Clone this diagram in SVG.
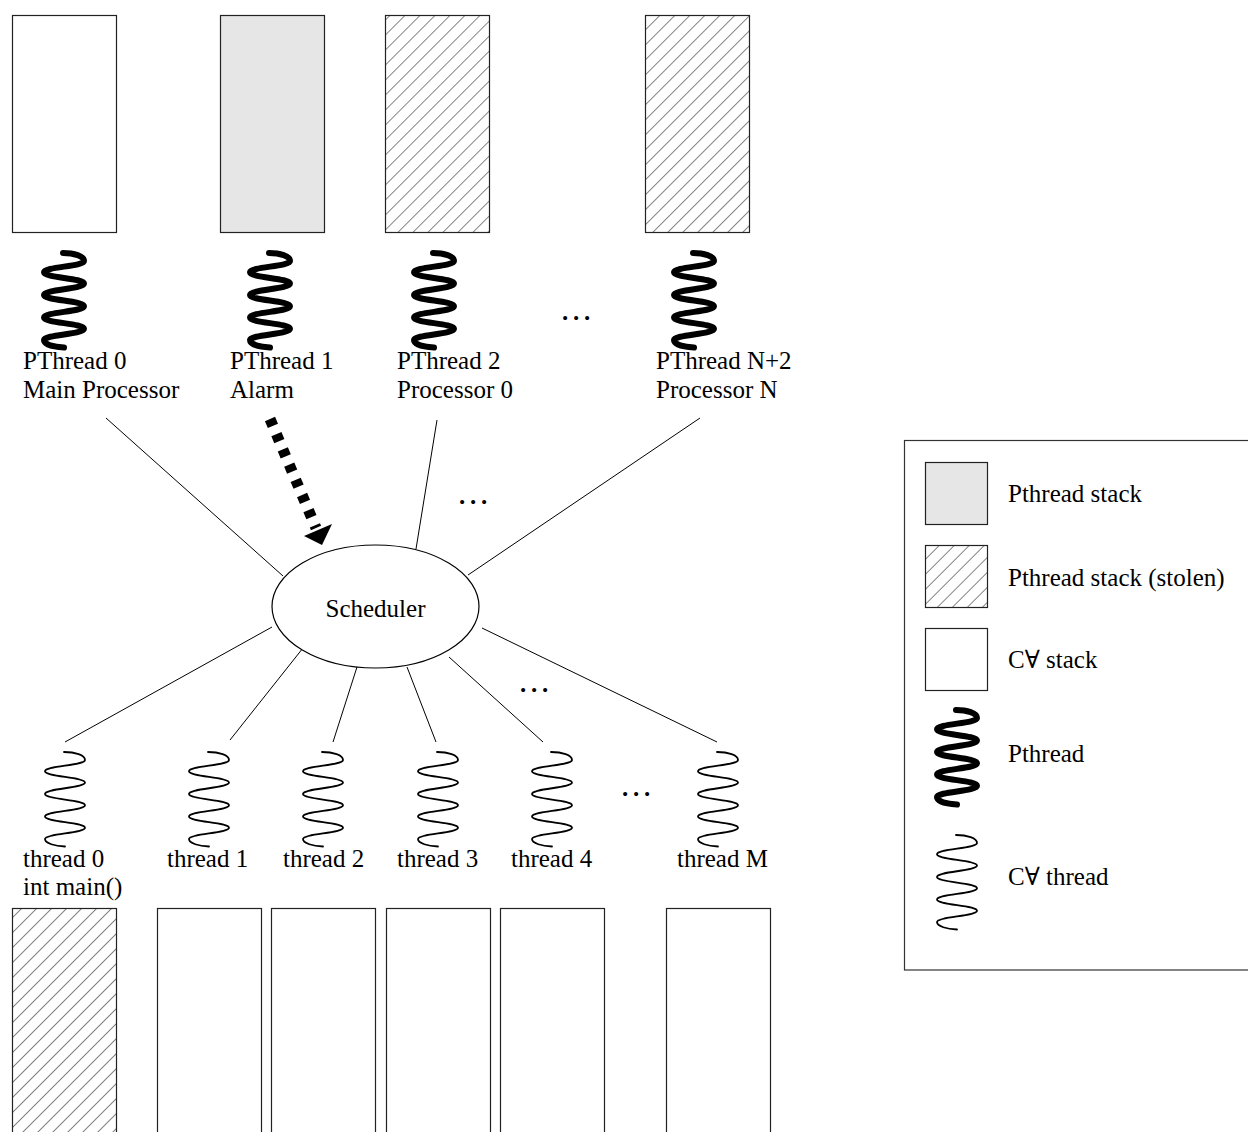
<svg xmlns="http://www.w3.org/2000/svg" xmlns:xlink="http://www.w3.org/1999/xlink" width="1248" height="1132" viewBox="0 0 1248 1132">
<style>
text{font-family:"Liberation Serif","DejaVu Serif",serif;font-size:25px;fill:#000}
.dots{font-weight:bold}
.box{stroke:#222;stroke-width:1.2}
.white{fill:#fff}
.gray{fill:#e6e6e6}
.hatch{fill:url(#hatch)}
.pth{fill:none;stroke:#000;stroke-width:6;stroke-linecap:round;stroke-linejoin:round}
.cth{fill:none;stroke:#000;stroke-width:1.8;stroke-linecap:round}
.conn{stroke:#000;stroke-width:1;fill:none}
.dash{stroke:#000;stroke-width:11;stroke-dasharray:7.5 9;fill:none}
</style>
<defs>
<pattern id="hatch" patternUnits="userSpaceOnUse" width="10.6" height="10.6" patternTransform="rotate(45)">
<rect width="10.6" height="10.6" fill="#fff"/>
<line x1="0" y1="-1" x2="0" y2="12" stroke="#333" stroke-width="1.2"/>
</pattern>
<path id="coil" d="M -1,0 C 10,0 20,3 20,8 C 20,13.5 -20,13.8 -20,19.3 C -20,24.8 20,25.1 20,30.6 C 20,36.1 -20,36.4 -20,41.9 C -20,47.4 20,47.7 20,53.2 C 20,58.7 -20,59 -20,64.5 C -20,70 20,70.3 20,75.8 C 20,81.3 -20,81.6 -20,87.1 C -20,91.5 -10,94 0,94.5"/>
</defs>

<g id="connectors">
<line class="conn" x1="106" y1="418" x2="283" y2="576"/>
<line class="conn" x1="437" y1="420" x2="416" y2="549"/>
<line class="conn" x1="700" y1="418" x2="468" y2="575"/>
<line class="conn" x1="272" y1="627" x2="65" y2="742"/>
<line class="conn" x1="303" y1="648" x2="230" y2="740"/>
<line class="conn" x1="357" y1="667" x2="333" y2="742"/>
<line class="conn" x1="407" y1="667" x2="436" y2="742"/>
<line class="conn" x1="449" y1="657" x2="543" y2="742"/>
<line class="conn" x1="482" y1="628" x2="717" y2="742"/>
<path class="dash" d="M 270,419 L 316,528"/>
<polygon points="322,545 304,536 332,524" fill="#000"/>
</g>

<g id="pthread0">
<rect class="box white" x="12.5" y="15.5" width="104" height="217"/>
<use href="#coil" class="pth" x="64" y="253"/>
<text x="23" y="369">PThread 0</text>
<text x="23" y="398">Main Processor</text>
</g>
<g id="pthread1">
<rect class="box gray" x="220.5" y="15.5" width="104" height="217"/>
<use href="#coil" class="pth" x="270" y="253"/>
<text x="230" y="369">PThread 1</text>
<text x="230" y="398">Alarm</text>
</g>
<g id="pthread2">
<rect class="box hatch" x="385.5" y="15.5" width="104" height="217"/>
<use href="#coil" class="pth" x="434" y="253"/>
<text x="397" y="369">PThread 2</text>
<text x="397" y="398">Processor 0</text>
</g>
<g id="pthreadN">
<rect class="box hatch" x="645.5" y="15.5" width="104" height="217"/>
<use href="#coil" class="pth" x="694" y="253"/>
<text x="656" y="369">PThread N+2</text>
<text x="656" y="398">Processor N</text>
</g>
<text class="dots" x="562" y="320" letter-spacing="4.8">...</text>
<text class="dots" x="459" y="504" letter-spacing="4.8">...</text>
<text class="dots" x="520" y="692" letter-spacing="4.8">...</text>
<text class="dots" x="622" y="796" letter-spacing="4.8">...</text>

<g id="scheduler">
<ellipse cx="375.5" cy="606.5" rx="103.5" ry="61.5" fill="#fff" stroke="#000" stroke-width="1.2"/>
<text x="375.5" y="617" text-anchor="middle">Scheduler</text>
</g>

<g id="thread0">
<use href="#coil" class="cth" x="65" y="752"/>
<text x="23" y="867">thread 0</text>
<text x="23" y="895">int main()</text>
<rect class="box hatch" x="12.5" y="908.5" width="104" height="240"/>
</g>
<g id="thread1">
<use href="#coil" class="cth" x="209" y="752"/>
<text x="167" y="867">thread 1</text>
<rect class="box white" x="157.5" y="908.5" width="104" height="240"/>
</g>
<g id="thread2">
<use href="#coil" class="cth" x="323" y="752"/>
<text x="283" y="867">thread 2</text>
<rect class="box white" x="271.5" y="908.5" width="104" height="240"/>
</g>
<g id="thread3">
<use href="#coil" class="cth" x="438" y="752"/>
<text x="397" y="867">thread 3</text>
<rect class="box white" x="386.5" y="908.5" width="104" height="240"/>
</g>
<g id="thread4">
<use href="#coil" class="cth" x="552" y="752"/>
<text x="511" y="867">thread 4</text>
<rect class="box white" x="500.5" y="908.5" width="104" height="240"/>
</g>
<g id="threadM">
<use href="#coil" class="cth" x="718" y="752"/>
<text x="677" y="867">thread M</text>
<rect class="box white" x="666.5" y="908.5" width="104" height="240"/>
</g>

<g id="legend">
<rect x="904.5" y="440.5" width="360" height="529.5" fill="#fff" stroke="#333" stroke-width="1.2"/>
<rect class="box gray" x="925.5" y="462.5" width="62" height="62"/>
<text x="1008" y="502">Pthread stack</text>
<rect class="box hatch" x="925.5" y="545.5" width="62" height="62"/>
<text x="1008" y="586">Pthread stack (stolen)</text>
<rect class="box white" x="925.5" y="628.5" width="62" height="62"/>
<text x="1008" y="668">C∀ stack</text>
<use href="#coil" class="pth" x="957" y="710"/>
<text x="1008" y="762">Pthread</text>
<use href="#coil" class="cth" x="957" y="835"/>
<text x="1008" y="885">C∀ thread</text>
</g>
</svg>
